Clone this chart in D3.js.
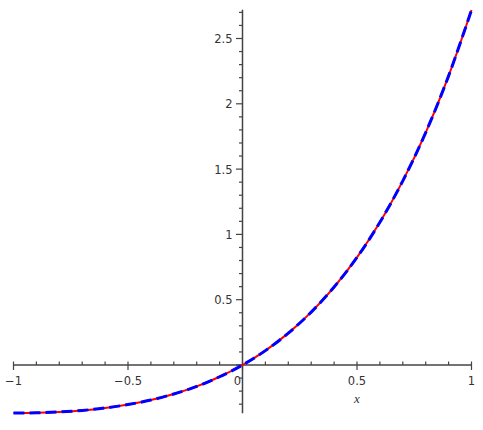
<!DOCTYPE html>
<meta charset="utf-8">

<style type="text/css">
  body {
    margin: 0;
    background: #fff;
  }

  .tick-label {
    font: 11.5px "DejaVu Sans", sans-serif;
    fill: #333;
  }

  .axis-line {
    stroke: #444;
    stroke-width: 1.5px;
  }
</style>

<body>
  <script src="https://d3js.org/d3.v7.min.js"></script>

  <script>
    var w = 483;
    var h = 430;

    // x values and the curve (red solid and blue dashed overlap)
    var xs = [-1, -0.9, -0.8, -0.7, -0.6, -0.5, -0.4, -0.3, -0.2, -0.1, 0,
      0.1, 0.2, 0.3, 0.4, 0.5, 0.6, 0.7, 0.8, 0.9, 1];
    var redVals = [-0.368, -0.366, -0.359, -0.348, -0.329, -0.303, -0.268, -0.222, -0.164, -0.090, 0,
      0.110, 0.244, 0.405, 0.597, 0.824, 1.093, 1.410, 1.780, 2.214, 2.718];
    var blueVals = [-0.368, -0.366, -0.359, -0.348, -0.329, -0.303, -0.268, -0.222, -0.164, -0.090, 0,
      0.110, 0.244, 0.405, 0.597, 0.824, 1.093, 1.410, 1.780, 2.214, 2.718];

    var xTickLabels = ['-1', '-0.5', '0', '0.5', '1'];
    var yTickLabels = ['0.5', '1', '1.5', '2', '2.5'];

    var x = d3.scaleLinear().domain([-1, 1]).range([13.5, 471.5]);
    var y = d3.scaleLinear().domain([0, 2.5]).range([365, 38.5]);

    var svg = d3.select('body') //SVG Canvas
      .append('svg')
      .attr('width', w)
      .attr('height', h);

    // axes through the origin
    var yMin = -0.37, yMax = 2.72;

    svg.append('line')
      .attr('class', 'axis-line')
      .attr('x1', x(-1)).attr('x2', x(1))
      .attr('y1', y(0)).attr('y2', y(0));

    svg.append('line')
      .attr('class', 'axis-line')
      .attr('x1', x(0)).attr('x2', x(0))
      .attr('y1', y(yMax)).attr('y2', y(yMin));

    // ticks every 0.1, labelled ones longer
    function isMajor(d) {
      return Math.abs(Math.round(d * 10)) % 5 === 0;
    }

    var xt = d3.range(-10, 11).map(function(d) { return d / 10; });
    svg.selectAll('.xtick')
      .data(xt)
      .enter()
      .append('line')
      .attr('x1', function(d) { return x(d); })
      .attr('x2', function(d) { return x(d); })
      .attr('y1', function(d) { return isMajor(d) ? y(0) + 5 : y(0); })
      .attr('y2', y(0) - 3.5)
      .attr('stroke', '#444')
      .attr('stroke-width', 1.2);

    var yt = d3.range(-3, 28).map(function(d) { return d / 10; });
    svg.selectAll('.ytick')
      .data(yt)
      .enter()
      .append('line')
      .attr('x1', function(d) { return isMajor(d) ? x(0) - 6.5 : x(0) - 3.5; })
      .attr('x2', x(0))
      .attr('y1', function(d) { return y(d); })
      .attr('y2', function(d) { return y(d); })
      .attr('stroke', '#444')
      .attr('stroke-width', 1.2);

    svg.selectAll('.xlab')
      .data(xTickLabels)
      .enter()
      .append('text')
      .attr('class', 'tick-label')
      .attr('x', function(d) { return +d === 0 ? x(0) - 5 : x(+d); })
      .attr('y', y(0) + 20)
      .attr('text-anchor', 'middle')
      .text(function(d) { return d.replace('-', '\u2212'); });

    svg.selectAll('.ylab')
      .data(yTickLabels)
      .enter()
      .append('text')
      .attr('class', 'tick-label')
      .attr('x', x(0) - 10)
      .attr('y', function(d) { return y(+d) + 4.5; })
      .attr('text-anchor', 'end')
      .text(function(d) { return d; });

    svg.append('text')
      .attr('x', x(0.5))
      .attr('y', y(0) + 38)
      .attr('text-anchor', 'middle')
      .style('font', 'italic 13px "Liberation Serif", serif')
      .style('fill', '#333')
      .text('x');

    // curves
    var curveLine = d3.line()
      .x(function(d, i) { return x(xs[i]); })
      .y(function(d) { return y(d); })
      .curve(d3.curveCatmullRom);

    svg.append('path')
      .datum(redVals)
      .attr('d', curveLine)
      .attr('fill', 'none')
      .attr('stroke', '#ff0000')
      .attr('stroke-width', 2);

    svg.append('path')
      .datum(blueVals)
      .attr('d', curveLine)
      .attr('fill', 'none')
      .attr('stroke', '#0000ff')
      .attr('stroke-width', 3)
      .attr('stroke-dasharray', '11,5');
  </script>
</body>
